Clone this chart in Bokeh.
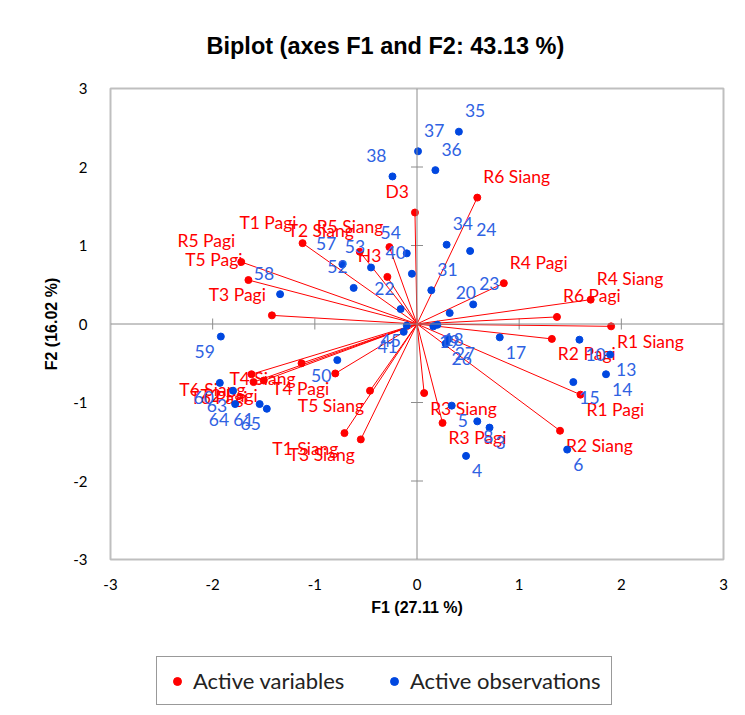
import math
from bokeh.plotting import figure
from bokeh.layouts import column
from bokeh.models import ColumnDataSource, Span, Legend, LegendItem, Range1d
from bokeh.core.properties import value
from bokeh.embed import file_html
from bokeh.resources import INLINE

# Active variables (loadings on F1 / F2)
var_names = ["D3", "H3", "R1 Pagi", "R1 Siang", "R2 Pagi", "R2 Siang", "R3 Pagi", "R3 Siang",
             "R4 Pagi", "R4 Siang", "R5 Pagi", "R5 Siang", "R6 Pagi", "R6 Siang",
             "T1 Pagi", "T1 Siang", "T2 Pagi", "T2 Siang", "T3 Pagi", "T3 Siang",
             "T4 Pagi", "T4 Siang", "T5 Pagi", "T5 Siang", "T6 Pagi", "T6 Siang"]
var_f1 = [-0.02, -0.29, 1.60, 1.90, 1.32, 1.40, 0.25, 0.07,
          0.85, 1.70, -1.72, -0.27, 1.37, 0.59,
          -1.12, -0.71, -1.50, -0.56, -1.42, -0.55,
          -0.80, -1.13, -1.65, -0.46, -1.60, -1.62]
var_f2 = [1.42, 0.60, -0.90, -0.03, -0.19, -1.36, -1.26, -0.88,
          0.52, 0.31, 0.79, 0.98, 0.09, 1.61,
          1.03, -1.39, -0.72, 0.92, 0.11, -1.47,
          -0.63, -0.50, 0.56, -0.85, -0.74, -0.64]

# Active observations (scores on F1 / F2)
obs_names = ["3", "4", "5", "6", "8", "10", "13", "14", "15", "17", "18", "19", "20", "22",
             "23", "24", "26", "27", "31", "34", "35", "36", "37", "38", "40", "41", "45",
             "50", "52", "53", "54", "57", "58", "59", "60", "61", "63", "64", "65"]
obs_f1 = [0.71, 0.48, 0.34, 1.47, 0.59, 1.59, 1.89, 1.85, 1.53, 0.81, 0.20, 0.16, 0.32, -0.16,
          0.55, 0.52, 0.28, 0.31, 0.14, 0.29, 0.41, 0.18, 0.01, -0.24, -0.05, -0.13, -0.10,
          -0.78, -0.62, -0.45, -0.10, -0.73, -1.34, -1.92, -1.93, -1.54, -1.80, -1.78, -1.47]
obs_f2 = [-1.32, -1.68, -1.04, -1.60, -1.24, -0.20, -0.39, -0.64, -0.74, -0.17, -0.01, -0.03, 0.14, 0.19,
          0.25, 0.93, -0.25, -0.19, 0.43, 1.01, 2.45, 1.96, 2.20, 1.88, 0.64, -0.10, -0.02,
          -0.46, 0.46, 0.72, 0.90, 0.76, 0.38, -0.16, -0.75, -1.02, -0.85, -1.02, -1.08]

ticks = [-3, -2, -1, 0, 1, 2, 3]

RED = "#FF0000"
BLUE_DOT = "#0047E0"
BLUE_TXT = "#2F62E2"
LABEL_FONT = "Lato"


def label_layout(xs, ys):
    """Quadrant-based label placement: labels go outward from the origin."""
    align = ["left" if x >= 0 else "right" for x in xs]
    dx = [6 if x >= 0 else -6 for x in xs]
    dy = [-21 if y >= 0 else 15 for y in ys]
    return align, dx, dy


va, vdx, vdy = label_layout(var_f1, var_f2)
oa, odx, ody = label_layout(obs_f1, obs_f2)

var_src = ColumnDataSource(dict(x=var_f1, y=var_f2, name=var_names, align=va, dx=vdx, dy=vdy,
                                x0=[0.0] * len(var_f1), y0=[0.0] * len(var_f1)))
obs_src = ColumnDataSource(dict(x=obs_f1, y=obs_f2, name=obs_names, align=oa, dx=odx, dy=ody))

p = figure(width=745, height=640, x_range=Range1d(-3, 3), y_range=Range1d(-3, 3),
           output_backend="svg", toolbar_location=None,
           min_border_left=110, min_border_right=22, min_border_top=88, min_border_bottom=81)

p.title.text = "Biplot (axes F1 and F2: 43.13 %)"
p.title.text_font = "Liberation Sans"
p.title.text_font_size = "23.5px"
p.title.text_font_style = "bold"
p.title.align = "left"
p.title.offset = 96
p.title.text_color = "#000000"
p.title.standoff = 60

p.grid.visible = False
p.outline_line_color = "#BFBFBF"
p.outline_line_width = 2
p.background_fill_color = "white"
p.border_fill_color = "white"

for ax in (p.xaxis[0], p.yaxis[0]):
    ax.ticker = ticks
    ax.major_label_overrides = {t: str(t) for t in ticks}
    ax.axis_line_color = None
    ax.major_tick_line_color = None
    ax.minor_tick_line_color = None
    ax.major_label_text_font = LABEL_FONT
    ax.major_label_text_font_size = "15px"
    ax.major_label_text_color = "#000000"
    ax.axis_label_text_font = "Liberation Sans"
    ax.axis_label_text_font_size = "16px"
    ax.axis_label_text_font_style = "bold"
    ax.axis_label_text_color = "#000000"

p.xaxis.axis_label = "F1 (27.11 %)"
p.yaxis.axis_label = "F2 (16.02 %)"
p.xaxis.major_label_standoff = 13
p.xaxis.axis_label_standoff = 6
p.yaxis.major_label_standoff = 17
p.yaxis.axis_label_standoff = 10
p.yaxis.major_label_orientation = "horizontal"

# axes through the origin with crossing tick marks
p.add_layout(Span(location=0, dimension="width", line_color="#8C8C8C", line_width=1))
p.add_layout(Span(location=0, dimension="height", line_color="#8C8C8C", line_width=1))
inner = [t for t in ticks if abs(t) < 3]
p.scatter(x=inner, y=[0] * len(inner), marker="dash", angle=math.pi / 2, size=11,
          line_color="#8C8C8C", line_width=1)
p.scatter(x=[0] * len(inner), y=inner, marker="dash", size=12,
          line_color="#8C8C8C", line_width=1)

# variable vectors
p.segment(x0="x0", y0="y0", x1="x", y1="y", source=var_src, line_color=RED, line_width=1)
p.scatter(x="x", y="y", source=var_src, size=7, fill_color=RED, line_color=RED)
p.text(x="x", y="y", text="name", source=var_src, text_align="align", text_baseline="middle",
       x_offset="dx", y_offset="dy", text_color=RED, text_font=value(LABEL_FONT),
       text_font_size="17.5px")

# observations
p.scatter(x="x", y="y", source=obs_src, size=7, fill_color=BLUE_DOT, line_color=BLUE_DOT)
p.text(x="x", y="y", text="name", source=obs_src, text_align="align", text_baseline="middle",
       x_offset="dx", y_offset="dy", text_color=BLUE_TXT, text_font=value(LABEL_FONT),
       text_font_size="17.5px")

# legend strip under the chart; its marker renderers sit outside the visible range
lg = figure(width=745, height=75, x_range=Range1d(0, 1), y_range=Range1d(0, 1),
            output_backend="svg", toolbar_location=None, x_axis_type=None, y_axis_type=None,
            min_border=0, outline_line_color=None)
lg.grid.visible = False
lg_var = lg.scatter(x=[-5], y=[-5], size=6, fill_color=RED, line_color=RED)
lg_obs = lg.scatter(x=[-5], y=[-5], size=6, fill_color=BLUE_DOT, line_color=BLUE_DOT)
legend = Legend(items=[LegendItem(label="Active variables", renderers=[lg_var]),
                       LegendItem(label="Active observations", renderers=[lg_obs])],
                orientation="horizontal", location=(46, 10),
                label_text_font=LABEL_FONT, label_text_font_size="22px",
                label_text_color="#222222", label_standoff=6,
                glyph_width=20, glyph_height=20, spacing=31, padding=10, margin=0,
                label_width=160,
                border_line_color="#333333", border_line_width=1,
                background_fill_color="white", background_fill_alpha=1)
lg.add_layout(legend, "center")

open("out.html", "w").write(file_html(column(p, lg, spacing=0), INLINE))
